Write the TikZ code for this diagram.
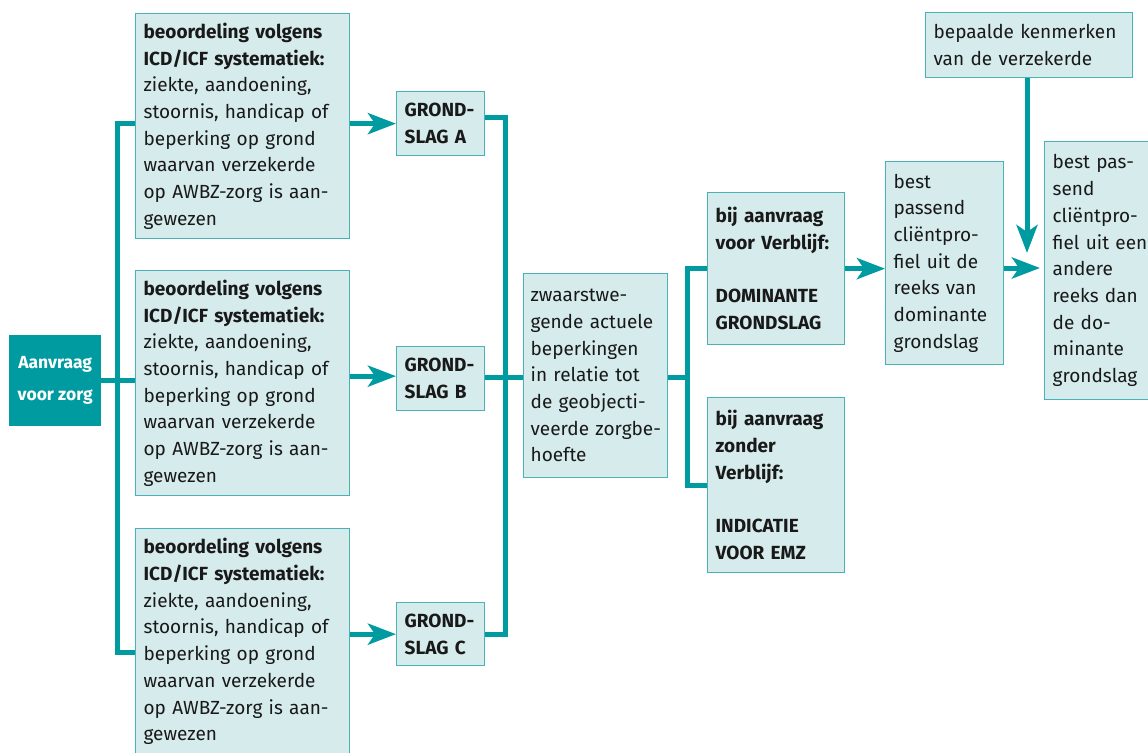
\documentclass[tikz,border=0pt]{standalone}
\usepackage{fontspec}
\setmainfont{Fira Sans}
\usetikzlibrary{arrows.meta}
\definecolor{teal}{RGB}{0,155,161}
\definecolor{boxfill}{RGB}{214,235,236}
\definecolor{boxline}{RGB}{72,178,184}
\definecolor{ink}{RGB}{25,25,25}
\begin{document}
\begin{tikzpicture}[x=1pt,y=-1pt,
  box/.style={draw=boxline, fill=boxfill, line width=1.3pt, anchor=north west,
    align=left, inner xsep=8pt, inner ysep=0pt, text=ink,
    font=\fontsize{19pt}{26.7pt}\selectfont},
  conn/.style={draw=teal, line width=5pt},
  arr/.style={conn, -{Stealth[length=28pt,width=21pt,inset=7pt]}},
]
\useasboundingbox (0,0) rectangle (1148,752);

% left start box
\node[fill=teal, anchor=north west, minimum width=92pt, minimum height=91pt, inner sep=0pt,
  align=center, text=white, font=\bfseries\fontsize{17.5pt}{32pt}\selectfont]
  (aan) at (9,335) {Aanvraag\\voor zorg};

% assessment boxes
\node[box, text width=198pt, minimum height=225pt] (b1) at (135,13)
 {\textbf{beoordeling volgens}\\\textbf{ICD/ICF systematiek:}\\ziekte, aandoening,\\stoornis, handicap of\\beperking op grond\\waarvan verzekerde\\op AWBZ-zorg is aan-\\gewezen};
\node[box, text width=198pt, minimum height=225pt] (b2) at (135,270)
 {\textbf{beoordeling volgens}\\\textbf{ICD/ICF systematiek:}\\ziekte, aandoening,\\stoornis, handicap of\\beperking op grond\\waarvan verzekerde\\op AWBZ-zorg is aan-\\gewezen};
\node[box, text width=198pt, minimum height=226pt] (b3) at (135,528)
 {\textbf{beoordeling volgens}\\\textbf{ICD/ICF systematiek:}\\ziekte, aandoening,\\stoornis, handicap of\\beperking op grond\\waarvan verzekerde\\op AWBZ-zorg is aan-\\gewezen};

% grondslag boxes
\node[box, text width=72pt, minimum height=64pt, font=\bfseries\fontsize{19pt}{26.7pt}\selectfont] (gA) at (396,91) {GROND-\\SLAG A};
\node[box, text width=72pt, minimum height=64pt, font=\bfseries\fontsize{19pt}{26.7pt}\selectfont] (gB) at (396,346) {GROND-\\SLAG B};
\node[box, text width=72pt, minimum height=63pt, font=\bfseries\fontsize{19pt}{26.7pt}\selectfont] (gC) at (396,602) {GROND-\\SLAG C};

% middle
\node[box, text width=130pt, inner xsep=7pt, minimum height=204pt] (zw) at (523,273)
 {zwaarstwe-\\gende actuele\\beperkingen\\in relatie tot\\de geobjecti-\\\mbox{veerde zorgbe-}\\hoefte};

\node[box, text width=121pt, minimum height=152pt, font=\bfseries\fontsize{19pt}{26.7pt}\selectfont] (vb) at (707,192)
 {bij aanvraag\\voor Verblijf:\\[26.7pt]DOMINANTE\\GRONDSLAG};
\node[box, text width=121pt, minimum height=175pt, font=\bfseries\fontsize{19pt}{26.7pt}\selectfont] (emz) at (707,397)
 {bij aanvraag\\zonder\\Verblijf:\\[26.7pt]INDICATIE\\VOOR EMZ};

% right
\node[box, text width=102pt, minimum height=203pt] (bp) at (885,161)
 {best\\passend\\cliëntpro-\\fiel uit de\\reeks van\\dominante\\grondslag};
\node[box, text width=191pt, minimum height=65pt] (km) at (925,12)
 {bepaalde kenmerken\\van de verzekerde};
\node[box, text width=110pt, minimum height=258pt] (fin) at (1044,141)
 {best pas-\\send\\cliëntpro-\\fiel uit een\\andere\\reeks dan\\de do-\\minante\\grondslag};

% junction coordinates
\coordinate (jL1) at (117,123);
\coordinate (jL3) at (117,652);
\coordinate (jR1) at (505,117);
\coordinate (jS) at (687,0);
\coordinate (tipH) at (1040,268);
\coordinate (tipD) at (1027,253);

% left trunk
\draw[conn] (b1.west |- jL1) -- (jL1) -- (jL3) -- (b3.west |- jL3);
\draw[conn] (aan.east) -- (aan.east -| b2.west);

% arrows to grondslag
\draw[arr] (gA.west -| b1.east) -- (gA.west);
\draw[arr] ([yshift=2.5pt]gB.west -| b2.east) -- ([yshift=2.5pt]gB.west);
\draw[arr] (gC.west -| b3.east) -- (gC.west);

% right trunk
\draw[conn] (gA.east |- jR1) -- (jR1) -- (jR1 |- gC.east) -- (gC.east);
\draw[conn] ([yshift=-2pt]gB.east |- zw.west) -- ([yshift=-2pt]zw.west);

% split
\draw[conn] ([yshift=-2pt]zw.west -| zw.east) -- ([yshift=-2pt]zw.west -| jS);
\draw[conn] (vb.west) -- (vb.west -| jS) -- (jS |- emz.west) -- (emz.west);

% to profiles
\draw[arr] (vb.east) -- (vb.east -| bp.west);
\draw[arr] (bp.east |- tipH) -- (tipH);
\draw[arr] (km.south -| tipD) -- (tipD);
\end{tikzpicture}
\end{document}
